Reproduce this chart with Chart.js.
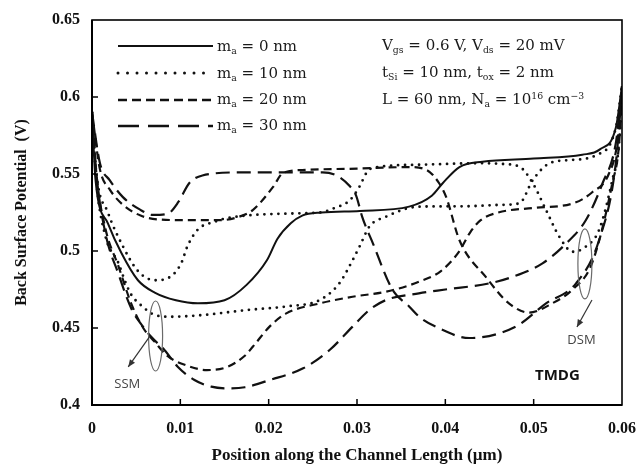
<!DOCTYPE html>
<html>
<head>
<meta charset="utf-8">
<script src="https://cdn.jsdelivr.net/npm/chart.js@4.4.1/dist/chart.umd.min.js"></script>
<style>
  html, body { margin: 0; padding: 0; background: #fff; }
  #wrap { position: relative; width: 638px; height: 467px; }
  canvas { position: absolute; left: 0; top: 0; }
  .lbl { position: absolute; white-space: nowrap; color: #1a1a1a; line-height: 18px; }
  .serif { font-family: "DejaVu Serif", serif; font-size: 15px; }
  .serif sub { font-size: 0.62em; vertical-align: -0.3em; line-height: 0; }
  .serif sup { font-size: 0.62em; vertical-align: 0.55em; line-height: 0; }
  .note { font-family: "Open Sans", sans-serif; font-size: 13px; color: #444; }
  .tag { font-family: "Open Sans", sans-serif; font-size: 15px; font-weight: bold; color: #111; }
</style>
</head>
<body>
<div id="wrap">
  <canvas id="chart" width="638" height="467"></canvas>
  <div class="lbl serif" style="left:217px; top:37px;">m<sub>a</sub> = 0 nm</div>
  <div class="lbl serif" style="left:217px; top:64px;">m<sub>a</sub> = 10 nm</div>
  <div class="lbl serif" style="left:217px; top:90px;">m<sub>a</sub> = 20 nm</div>
  <div class="lbl serif" style="left:217px; top:116px;">m<sub>a</sub> = 30 nm</div>
  <div class="lbl serif" style="left:382px; top:36px;">V<sub>gs</sub> = 0.6 V, V<sub>ds</sub> = 20 mV</div>
  <div class="lbl serif" style="left:382px; top:63px;">t<sub>Si</sub> = 10 nm, t<sub>ox</sub> = 2 nm</div>
  <div class="lbl serif" style="left:382px; top:90px;">L = 60 nm, N<sub>a</sub> = 10<sup>16</sup> cm<sup>&minus;3</sup></div>
  <div class="lbl note" id="ssm">SSM</div>
  <div class="lbl note" id="dsm">DSM</div>
  <div class="lbl tag" id="tmdg">TMDG</div>
</div>
<script>
// tick values
const xTicks = [0, 0.01, 0.02, 0.03, 0.04, 0.05, 0.06];
const yTicks = [0.4, 0.45, 0.5, 0.55, 0.6, 0.65];

// m_a = 0 nm (solid)
const x0 = [0, 0.0004, 0.0018, 0.0033, 0.0052, 0.0071, 0.0095, 0.012, 0.015, 0.0175, 0.0198, 0.021, 0.0225, 0.0238, 0.026, 0.0303, 0.0359, 0.0385, 0.0397, 0.0416, 0.0442, 0.05, 0.0555, 0.0575, 0.0593, 0.06];
const y0 = [0.59, 0.546, 0.518, 0.499, 0.481, 0.473, 0.468, 0.466, 0.468, 0.478, 0.494, 0.508, 0.518, 0.523, 0.525, 0.526, 0.5288, 0.536, 0.544, 0.5545, 0.558, 0.56, 0.5625, 0.566, 0.58, 0.607];

// m_a = 10 nm (dotted), two curves
const x10a = [0, 0.0005, 0.0018, 0.0035, 0.0052, 0.0071, 0.0088, 0.0101, 0.0108, 0.012, 0.0139, 0.015, 0.0235, 0.0258, 0.0275, 0.0292, 0.0303, 0.0311, 0.0318, 0.037, 0.044, 0.0465, 0.0484, 0.0499, 0.0514, 0.0529, 0.0544, 0.0559, 0.0574, 0.0589, 0.0597, 0.06];
const y10a = [0.59, 0.55, 0.525, 0.503, 0.487, 0.481, 0.483, 0.492, 0.503, 0.514, 0.519, 0.521, 0.5245, 0.525, 0.528, 0.533, 0.542, 0.551, 0.554, 0.556, 0.557, 0.5565, 0.5547, 0.544, 0.5266, 0.5093, 0.4995, 0.5028, 0.5136, 0.546, 0.572, 0.607];
const x10b = [0, 0.0005, 0.0015, 0.003, 0.0037, 0.0044, 0.0055, 0.0071, 0.0089, 0.0127, 0.0176, 0.022, 0.0258, 0.028, 0.0295, 0.0303, 0.0314, 0.0333, 0.037, 0.042, 0.0465, 0.0484, 0.0499, 0.0518, 0.054, 0.0571, 0.0593, 0.06];
const y10b = [0.59, 0.545, 0.51, 0.492, 0.481, 0.472, 0.465, 0.4585, 0.4573, 0.4585, 0.4617, 0.464, 0.4682, 0.479, 0.494, 0.503, 0.5158, 0.5223, 0.5288, 0.529, 0.53, 0.531, 0.546, 0.557, 0.559, 0.5623, 0.58, 0.607];

// m_a = 20 nm (short dash), two curves
const x20a = [0, 0.0009, 0.002, 0.0035, 0.0055, 0.0075, 0.011, 0.0145, 0.0165, 0.0182, 0.0205, 0.0216, 0.0238, 0.03, 0.0359, 0.0379, 0.0393, 0.0401, 0.0416, 0.0446, 0.0472, 0.0495, 0.0521, 0.0544, 0.0566, 0.0589, 0.0597, 0.06];
const y20a = [0.59, 0.553, 0.54, 0.53, 0.523, 0.5205, 0.52, 0.52, 0.522, 0.5266, 0.5416, 0.5506, 0.5526, 0.5535, 0.5545, 0.5526, 0.544, 0.535, 0.507, 0.483, 0.466, 0.46, 0.466, 0.475, 0.492, 0.544, 0.572, 0.607];
const x20b = [0, 0.0005, 0.0015, 0.003, 0.0045, 0.0058, 0.0071, 0.0085, 0.0108, 0.013, 0.0153, 0.0173, 0.0182, 0.0201, 0.022, 0.0258, 0.0295, 0.0333, 0.037, 0.0395, 0.0416, 0.0428, 0.044, 0.046, 0.05, 0.0545, 0.0566, 0.0585, 0.0595, 0.06];
const y20b = [0.59, 0.55, 0.515, 0.49, 0.465, 0.45, 0.441, 0.432, 0.4255, 0.4227, 0.4247, 0.432, 0.4378, 0.4509, 0.4595, 0.466, 0.4703, 0.4736, 0.48, 0.487, 0.5, 0.512, 0.52, 0.525, 0.528, 0.531, 0.538, 0.55, 0.572, 0.607];

// m_a = 30 nm (long dash), two curves
const x30a = [0, 0.0009, 0.002, 0.0035, 0.0054, 0.0069, 0.0085, 0.0098, 0.011, 0.0125, 0.0167, 0.0212, 0.0261, 0.0277, 0.0292, 0.0299, 0.0306, 0.0318, 0.034, 0.0359, 0.0371, 0.039, 0.0427, 0.048, 0.0514, 0.0548, 0.0574, 0.0593, 0.06];
const y30a = [0.59, 0.557, 0.546, 0.535, 0.527, 0.5234, 0.524, 0.532, 0.544, 0.549, 0.551, 0.551, 0.551, 0.549, 0.542, 0.536, 0.522, 0.505, 0.475, 0.464, 0.457, 0.4506, 0.4435, 0.451, 0.466, 0.479, 0.507, 0.557, 0.605];
const x30b = [0, 0.0005, 0.0015, 0.003, 0.0045, 0.0055, 0.0067, 0.0082, 0.0097, 0.0116, 0.0135, 0.0154, 0.0173, 0.0201, 0.0239, 0.0269, 0.0295, 0.0314, 0.0333, 0.037, 0.04, 0.045, 0.0475, 0.051, 0.0537, 0.0559, 0.0578, 0.0593, 0.06];
const y30b = [0.59, 0.55, 0.512, 0.485, 0.462, 0.453, 0.4443, 0.4357, 0.4249, 0.4162, 0.4119, 0.4108, 0.4115, 0.4162, 0.4238, 0.4357, 0.4509, 0.4617, 0.4682, 0.4725, 0.475, 0.479, 0.483, 0.492, 0.505, 0.52, 0.544, 0.57, 0.605];

const INK = "#111";
const DOT = [0, 7], SHORT = [8, 5], LONG = [14, 7];

function pts(xs, ys) {
  return xs.map((x, i) => ({ x: x, y: ys[i] }));
}

function series(xs, ys, dash, width, cap) {
  return {
    data: pts(xs, ys),
    borderColor: INK,
    borderWidth: width,
    borderDash: dash,
    borderCapStyle: cap || "butt",
    pointRadius: 0,
    showLine: true,
    fill: false,
    cubicInterpolationMode: "monotone"
  };
}

const serifBold = (size) => ({ family: "'Liberation Serif', 'Times New Roman', serif", weight: "bold", size: size });

function tickText(v) {
  return String(parseFloat(v.toFixed(3)));
}

// frame, inward ticks, legend samples, SSM/DSM marks
const extras = {
  id: "extras",
  afterDatasetsDraw(chart) {
    const { ctx, chartArea: a, scales: { x, y } } = chart;
    ctx.save();
    ctx.strokeStyle = "#000";
    ctx.lineWidth = 1.6;
    ctx.strokeRect(a.left, a.top, a.width, a.height);
    ctx.lineWidth = 2;
    ctx.beginPath();
    ctx.moveTo(a.left, a.top);
    ctx.lineTo(a.left, a.bottom);
    ctx.lineTo(a.right, a.bottom);
    ctx.stroke();

    ctx.lineWidth = 1.5;
    ctx.beginPath();
    xTicks.slice(1, -1).forEach(v => {
      const px = x.getPixelForValue(v);
      ctx.moveTo(px, a.bottom);
      ctx.lineTo(px, a.bottom - 6);
    });
    yTicks.slice(1, -1).forEach(v => {
      const py = y.getPixelForValue(v);
      ctx.moveTo(a.left, py);
      ctx.lineTo(a.left + 6, py);
    });
    ctx.stroke();

    // legend line samples
    const lx0 = a.left + 26, lx1 = a.left + 121;
    const rows = [
      { dy: 26, dash: [], w: 2, cap: "butt" },
      { dy: 53, dash: [0, 9.5], w: 3, cap: "round" },
      { dy: 80, dash: [9, 5], w: 2.4, cap: "butt" },
      { dy: 106, dash: [21, 9], w: 2.4, cap: "butt" }
    ];
    ctx.strokeStyle = INK;
    rows.forEach(r => {
      ctx.beginPath();
      ctx.setLineDash(r.dash);
      ctx.lineCap = r.cap;
      ctx.lineWidth = r.w;
      ctx.moveTo(lx0, a.top + r.dy);
      ctx.lineTo(lx1, a.top + r.dy);
      ctx.stroke();
    });
    ctx.setLineDash([]);
    ctx.lineCap = "butt";

    // source / drain side marks
    ctx.strokeStyle = "#6a6a6a";
    ctx.lineWidth = 1.2;
    [[0.0072, 0.4448], [0.0558, 0.4916]].forEach(c => {
      ctx.beginPath();
      ctx.ellipse(x.getPixelForValue(c[0]), y.getPixelForValue(c[1]), 7, 35, 0, 0, Math.PI * 2);
      ctx.stroke();
    });
    ctx.strokeStyle = "#333";
    ctx.fillStyle = "#333";
    [[0.0065, 0.4442, 0.0041, 0.4247], [0.0566, 0.4682, 0.0549, 0.4506]].forEach(s => {
      const x1 = x.getPixelForValue(s[0]), y1 = y.getPixelForValue(s[1]);
      const x2 = x.getPixelForValue(s[2]), y2 = y.getPixelForValue(s[3]);
      const ang = Math.atan2(y2 - y1, x2 - x1);
      ctx.beginPath();
      ctx.moveTo(x1, y1);
      ctx.lineTo(x2, y2);
      ctx.stroke();
      ctx.beginPath();
      ctx.moveTo(x2, y2);
      ctx.lineTo(x2 - 8 * Math.cos(ang - 0.4), y2 - 8 * Math.sin(ang - 0.4));
      ctx.lineTo(x2 - 8 * Math.cos(ang + 0.4), y2 - 8 * Math.sin(ang + 0.4));
      ctx.closePath();
      ctx.fill();
    });
    ctx.restore();
  }
};

const chart = new Chart(document.getElementById("chart"), {
  type: "scatter",
  data: {
    datasets: [
      series(x0, y0, [], 2),
      series(x10a, y10a, DOT, 2.8, "round"),
      series(x10b, y10b, DOT, 2.8, "round"),
      series(x20a, y20a, SHORT, 2.2),
      series(x20b, y20b, SHORT, 2.2),
      series(x30a, y30a, LONG, 2.2),
      series(x30b, y30b, LONG, 2.2)
    ]
  },
  options: {
    responsive: false,
    animation: false,
    devicePixelRatio: 1,
    layout: { padding: { top: 20, right: 16, left: 0, bottom: 0 } },
    plugins: { legend: { display: false }, tooltip: { enabled: false } },
    scales: {
      x: {
        type: "linear",
        min: 0,
        max: 0.06,
        afterBuildTicks: (s) => { s.ticks = xTicks.map(v => ({ value: v })); },
        afterFit: (s) => { s.height = 62; s.paddingLeft = 0; s.paddingRight = 0; },
        ticks: { callback: tickText, color: "#111", font: serifBold(16), padding: 14, maxRotation: 0 },
        grid: { display: false, drawTicks: false },
        border: { display: false },
        title: { display: true, text: "Position along the Channel Length (\u00b5m)", color: "#111", font: serifBold(17), padding: { top: 0, bottom: 1 } }
      },
      y: {
        type: "linear",
        min: 0.4,
        max: 0.65,
        afterBuildTicks: (s) => { s.ticks = yTicks.map(v => ({ value: v })); },
        afterFit: (s) => { s.width = 92; s.paddingTop = 0; s.paddingBottom = 0; },
        ticks: { callback: tickText, color: "#111", font: serifBold(16), padding: 12 },
        grid: { display: false, drawTicks: false },
        border: { display: false },
        title: { display: true, text: "Back Surface Potential  (V)", color: "#111", font: serifBold(16), padding: { top: 12, bottom: 0 } }
      }
    }
  },
  plugins: [extras]
});

// place the annotation texts from the scales
function place(id, xv, yv) {
  const el = document.getElementById(id);
  const px = chart.scales.x.getPixelForValue(xv);
  const py = chart.scales.y.getPixelForValue(yv);
  el.style.left = (px - el.offsetWidth / 2) + "px";
  el.style.top = (py - el.offsetHeight / 2) + "px";
}
place("ssm", 0.004, 0.4143);
place("dsm", 0.0554, 0.443);
place("tmdg", 0.0527, 0.42);
</script>
</body>
</html>
